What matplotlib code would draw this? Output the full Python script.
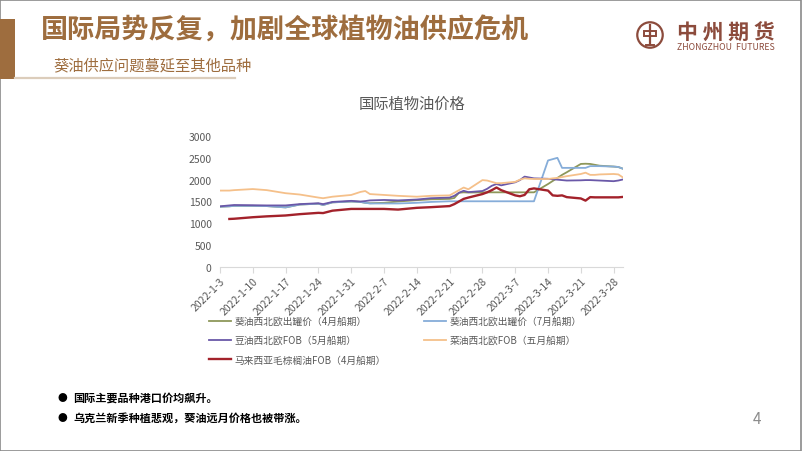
import numpy as np
import pandas as pd
import matplotlib
matplotlib.use("Agg")
import matplotlib.pyplot as plt
from matplotlib.patches import Rectangle, Circle

plt.rcParams['font.family'] = ['Noto Sans CJK SC', 'DejaVu Sans']

# dates (2022)
days = ["1-3", "1-5", "1-6", "1-10", "1-13", "1-17", "1-20", "1-24", "1-25", "1-27",
        "1-31", "2-2", "2-3", "2-4", "2-7", "2-10", "2-14", "2-17", "2-21", "2-22",
        "2-23", "2-24", "2-25", "2-28", "3-1", "3-2", "3-3", "3-4", "3-7", "3-8",
        "3-9", "3-10", "3-11", "3-14", "3-15", "3-16", "3-17", "3-18", "3-21", "3-22",
        "3-23", "3-24", "3-25", "3-28", "3-29", "3-30"]

sun_apr = [1380, 1390, 1400, 1400, 1395, 1365, 1430, 1450, 1420, 1480,
           1500, 1490, 1470, 1460, 1470, 1500, 1530, 1550, 1560, 1580,
           1700, 1710, 1705, 1710, 1710, 1710, 1710, 1710, 1710, 1710,
           1710, 1710, 1710, 1900, 1970, 2040, 2110, 2170, 2360, 2365,
           2360, 2340, 2320, 2300, 2290, 2250]
sun_jul = [1380, 1390, 1400, 1400, 1395, 1365, 1430, 1450, 1420, 1480,
           1500, 1490, 1470, 1455, 1455, 1455, 1470, 1490, 1505, 1505,
           1505, 1505, 1505, 1505, 1505, 1505, 1505, 1505, 1505, 1505,
           1505, 1505, 1505, 2440, 2470, 2500, 2270, 2270, 2270, 2270,
           2310, 2310, 2310, 2300, 2290, 2250]
soy = [1390, 1410, 1420, 1415, 1410, 1410, 1440, 1460, 1440, 1490,
       1515, 1500, 1510, 1525, 1535, 1525, 1545, 1575, 1590, 1630,
       1700, 1745, 1715, 1740, 1790, 1860, 1900, 1870, 1940, 1990,
       2070, 2050, 2030, 2020, 2010, 2000, 1990, 1980, 1985, 1990,
       1990, 1985, 1980, 1965, 1980, 2005]
rape = [1750, 1750, 1760, 1785, 1760, 1690, 1660, 1590, 1575, 1610,
        1650, 1720, 1740, 1670, 1650, 1630, 1610, 1630, 1640, 1700,
        1760, 1820, 1780, 1990, 1980, 1950, 1920, 1920, 1950, 2000,
        2030, 2020, 2015, 2015, 2030, 2040, 2060, 2080, 2130, 2160,
        2110, 2110, 2120, 2130, 2120, 2050]
palm = [np.nan, 1100, 1105, 1140, 1160, 1180, 1210, 1240, 1235, 1290,
        1330, 1330, 1330, 1330, 1330, 1315, 1355, 1370, 1395, 1440,
        1500, 1560, 1590, 1670, 1710, 1760, 1820, 1760, 1640, 1620,
        1650, 1780, 1800, 1750, 1640, 1630, 1640, 1600, 1570, 1520,
        1600, 1595, 1595, 1595, 1595, 1605]

labels = ["葵油西北欧出罐价（4月船期）", "葵油西北欧出罐价（7月船期）",
          "豆油西北欧FOB（5月船期）", "菜油西北欧FOB（五月船期）",
          "马来西亚毛棕榈油FOB（4月船期）"]
colors = ["#8E975A", "#86ADD9", "#6A58A8", "#F5C08A", "#A3222B"]

dates = pd.to_datetime(["2022-" + d for d in days], format="%Y-%m-%d")

W, H = 802, 452
def fx(x):
    return x / W
def fy(y):
    return 1 - y / H

fig = plt.figure(figsize=(W / 100, H / 100), dpi=100)
fig.patch.set_facecolor("white")

# slide frame
fig.add_artist(Rectangle((0.0006, 0.001), 0.9982, 0.997, transform=fig.transFigure,
                         fill=False, edgecolor="#8A8A8A", lw=1.2))

# header
brown = "#9E6D3E"
fig.add_artist(Rectangle((0, fy(80)), fx(15), (80 - 20) / H, transform=fig.transFigure,
                         facecolor=brown, edgecolor="none"))
fig.add_artist(plt.Line2D([fx(15), fx(235)], [fy(79), fy(79)], transform=fig.transFigure,
                          color="#DCCDBB", lw=1.6))
fig.text(fx(41), fy(31), "国际局势反复，加剧全球植物油供应危机", fontsize=19.5,
         fontweight="bold", color=brown, va="center", ha="left")
fig.text(fx(53), fy(66), "葵油供应问题蔓延至其他品种", fontsize=11, color=brown,
         va="center", ha="left")

# logo
logo_c = "#8C4B3C"
lax = fig.add_axes([fx(636), fy(51), 28 / W, 30 / H])
lax.set_xlim(-1.1, 1.1)
lax.set_ylim(-1.1, 1.1)
lax.set_aspect("equal")
lax.axis("off")
lax.add_patch(Circle((0, 0), 1, fill=False, edgecolor=logo_c, lw=1.6))
lax.add_patch(Rectangle((-0.45, -0.1), 0.9, 0.45, fill=False, edgecolor=logo_c, lw=1.4))
lax.plot([0, 0], [0.75, -0.75], color=logo_c, lw=1.6)
lax.plot([-0.3, 0.3], [-0.75, -0.75], color=logo_c, lw=1.4)
fig.text(fx(726), fy(33), "中 州 期 货", fontsize=15, fontweight="bold", color=logo_c,
         va="center", ha="center")
fig.text(fx(726), fy(47), "ZHONGZHOU  FUTURES", fontsize=6.3, color=logo_c,
         va="center", ha="center")

# chart
ax = fig.add_axes([fx(220), fy(268), (623 - 220) / W, (268 - 137) / H])
series = [sun_apr, sun_jul, soy, rape, palm]
handles = []
for i in range(5):
    lw = 1.7 if i == 4 else 1.3
    h, = ax.plot(dates, series[i], color=colors[i], lw=lw, label=labels[i])
    handles.append(h)

ax.set_ylim(0, 3000)
ax.set_yticks(np.arange(0, 3001, 500))
ax.set_xlim(pd.Timestamp("2022-01-03"), pd.Timestamp("2022-03-30"))
ticks = pd.date_range("2022-01-03", "2022-03-28", freq="7D")
ax.set_xticks(ticks)
ax.set_xticklabels([f"{t.year}-{t.month}-{t.day}" for t in ticks], rotation=45,
                   ha="right", rotation_mode="anchor")
for s in ["top", "right", "left"]:
    ax.spines[s].set_visible(False)
ax.spines["bottom"].set_color("#D9D9D9")
ax.tick_params(axis="y", length=0, labelsize=7.5, labelcolor="#595959", pad=6)
ax.tick_params(axis="x", length=4, color="#D9D9D9", labelsize=7.5, labelcolor="#595959",
               pad=2)

fig.text(fx(412), fy(104), "国际植物油价格", fontsize=11, color="#595959",
         ha="center", va="center")

leg_kw = dict(frameon=False, fontsize=7, labelcolor="#595959", handlelength=2.3,
              handletextpad=0.35, labelspacing=0.95, borderpad=0, borderaxespad=0,
              loc="upper left")
fig.legend([handles[0], handles[2], handles[4]], [labels[0], labels[2], labels[4]],
           bbox_to_anchor=(fx(209), fy(317)), **leg_kw)
fig.legend([handles[1], handles[3]], [labels[1], labels[3]],
           bbox_to_anchor=(fx(424), fy(317)), **leg_kw)

# bullet notes
notes = ["国际主要品种港口价均飙升。", "乌克兰新季种植悲观，葵油远月价格也被带涨。"]
for k, note in enumerate(notes):
    yy = fy(398 + 20 * k)
    fig.text(fx(57), yy, "●", fontsize=7, color="black", va="center", ha="left")
    fig.text(fx(73), yy, note, fontsize=8, fontweight="bold", color="black",
             va="center", ha="left")

fig.text(fx(757), fy(420), "4", fontsize=11, color="#8C8C8C", ha="center", va="center")

fig.savefig("out.png", dpi=100)
